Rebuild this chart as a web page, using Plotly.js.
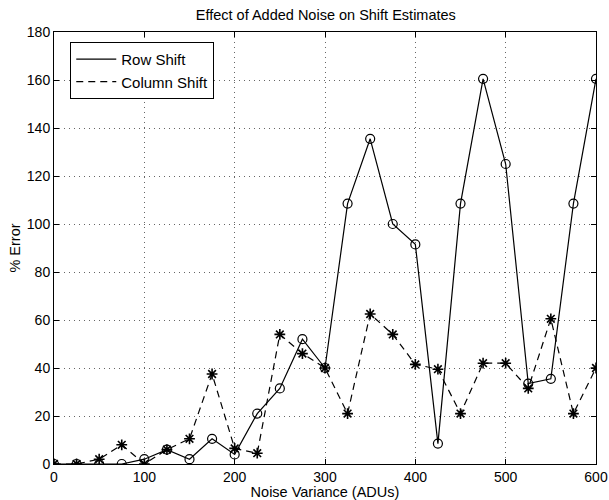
<!DOCTYPE html>
<html><head><meta charset="utf-8">
<script src="https://cdn.plot.ly/plotly-3.0.1.min.js"></script>
<style>body{margin:0;background:#fff}#c{width:609px;height:500px}</style>
</head><body><div id="c"></div>
<script>
const noiseVariance = [0,25,50,75,100,125,150,175,200,225,250,275,300,325,350,375,400,425,450,475,500,525,550,575,600];
const rowShift = [0,0,0,0,2,6,2,10.5,4,21,31.5,52,40,108.5,135.5,100,91.5,8.5,108.5,160.5,125,33.5,35.5,108.5,160.5];
const columnShift = [0,0,2,8,0,6,10.5,37.5,6.5,4.5,54,46,40,21,62.5,54,41.5,39.5,21,42,42,31.5,60.5,21,40];
const xTicks = [0,100,200,300,400,500,600];
const yTicks = [0,20,40,60,80,100,120,140,160,180];

const font = {family: 'Liberation Sans, Arial, sans-serif', color: '#000'};
const traces = [
  {x: noiseVariance, y: rowShift, mode: 'lines', name: 'Row Shift',
   line: {color: '#000', width: 1.2}},
  {x: noiseVariance, y: columnShift, mode: 'lines', name: 'Column Shift',
   line: {color: '#000', width: 1.2, dash: '7px,5px'}},
  {x: noiseVariance, y: rowShift, mode: 'markers', showlegend: false,
   marker: {symbol: 'circle-open', size: 9, color: '#000', line: {width: 1.2, color: '#000'}}},
  {x: noiseVariance, y: columnShift, mode: 'markers', showlegend: false,
   marker: {symbol: 'asterisk-open', size: 9, color: '#000', line: {width: 1.6, color: '#000'}}}
];
const axisCommon = {
  showline: true, linecolor: '#000', linewidth: 1, mirror: 'ticks',
  ticks: 'inside', ticklen: 5, tickcolor: '#000',
  showgrid: true, gridcolor: '#666', griddash: '1px,4px', gridwidth: 1,
  zeroline: false, tickfont: Object.assign({size: 14}, font)
};
const layout = {
  width: 609, height: 500,
  margin: {l: 54, r: 13, t: 32, b: 36},
  paper_bgcolor: '#fff', plot_bgcolor: '#fff',
  title: {text: 'Effect of Added Noise on Shift Estimates', font: Object.assign({size: 14.5}, font),
          x: 0.535, xanchor: 'center', y: 0.97, yanchor: 'middle'},
  xaxis: Object.assign({}, axisCommon, {range: [0, 600], tickvals: xTicks, ticktext: xTicks.map(String),
    title: {text: 'Noise Variance (ADUs)', font: Object.assign({size: 14.5}, font), standoff: 0}}),
  yaxis: Object.assign({}, axisCommon, {range: [0, 180], tickvals: yTicks, ticktext: yTicks.map(String),
    title: {text: '% Error', font: Object.assign({size: 14.5}, font), standoff: 2}}),
  showlegend: true,
  legend: {x: 0.03, y: 0.977, xanchor: 'left', yanchor: 'top', bgcolor: '#fff',
    bordercolor: '#000', borderwidth: 1, font: Object.assign({size: 15}, font),
    tracegroupgap: 0, itemwidth: 40}
};
Plotly.newPlot('c', traces, layout, {displayModeBar: false, staticPlot: true});
</script></body></html>
